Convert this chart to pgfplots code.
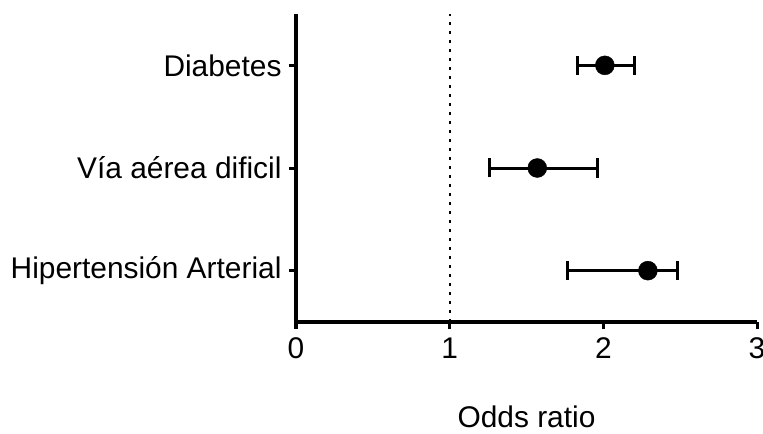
\documentclass[border=0pt]{standalone}
\usepackage{pgfplots}
\pgfplotsset{compat=1.18}
\usepackage{fontspec}
\setmainfont{Liberation Sans}
\begin{document}
\begin{tikzpicture}
\useasboundingbox (0,0) rectangle (763bp,434bp);
\begin{axis}[
  at={(296bp,112bp)}, anchor=south west,
  scale only axis, width=461bp, height=308bp,
  xmin=0, xmax=3, ymin=0.5, ymax=3.5,
  axis x line*=bottom, axis y line*=left,
  axis line style={line width=3bp},
  every tick/.style={black, line width=3bp},
  tick align=outside,
  major tick length=7bp,
  xtick={0,1,2,3}, ytick={1,2,3},
  yticklabels={Hipertensión Arterial, Vía aérea dificil, Diabetes},
  tick label style={font=\fontsize{30}{36}\selectfont},
  /pgf/number format/assume math mode=true,
  yticklabel style={xshift=-4bp},
  xticklabel style={yshift=-5bp},
  xlabel={Odds ratio},
  xlabel style={font=\fontsize{30}{36}\selectfont, yshift=-40bp},
  clip=false,
]
\addplot[black, line width=2.2bp, dash pattern=on 2.5bp off 6.5bp] coordinates {(1,0.5) (1,3.5)};
\addplot[only marks, mark=*, mark size=9.5bp, black,
  error bars/.cd, x dir=both, x explicit,
  error bar style={line width=3bp, black},
  error mark options={line width=3bp, mark size=9.5bp, rotate=90}]
  coordinates {
    (2.01,3) += (0.19,0) -= (0.18,0)
    (1.57,2) += (0.39,0) -= (0.31,0)
    (2.29,1) += (0.19,0) -= (0.52,0)
  };
\end{axis}
\end{tikzpicture}
\end{document}
